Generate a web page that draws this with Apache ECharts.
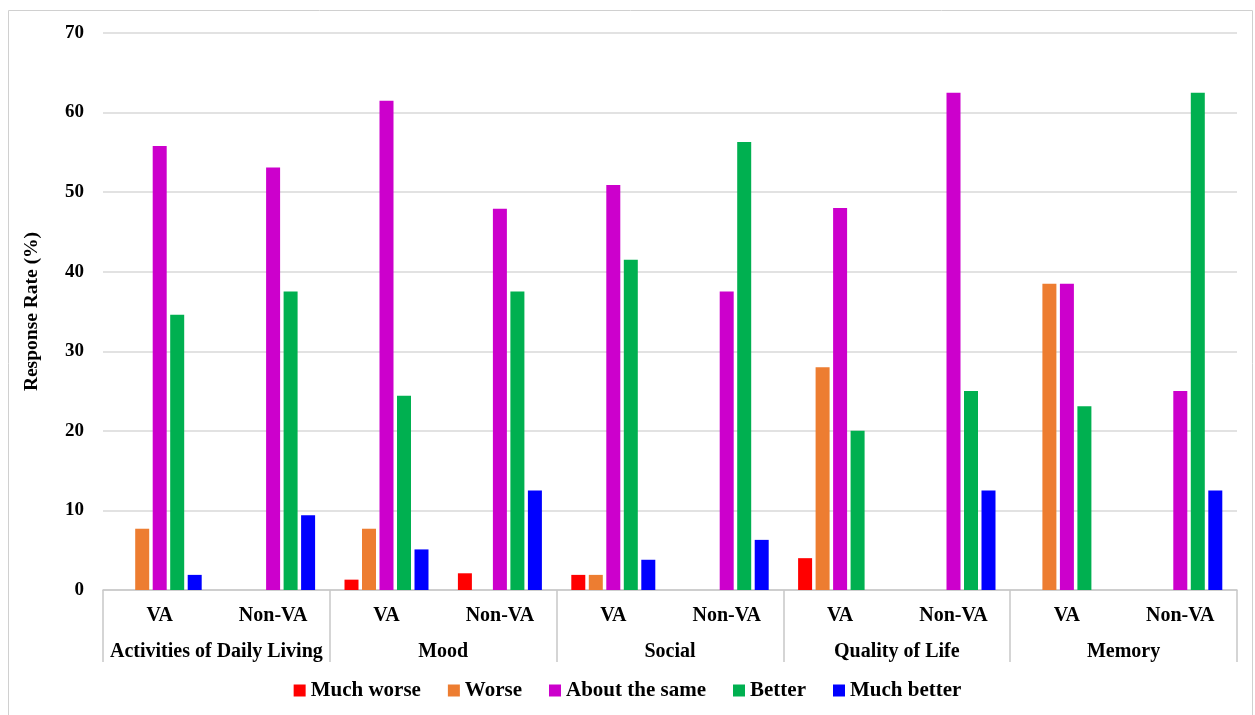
<!DOCTYPE html>
<html><head><meta charset="utf-8">
<script src="https://cdn.jsdelivr.net/npm/echarts@6/dist/echarts.min.js"></script>
<style>html,body{margin:0;padding:0;background:#fff}#c{width:1255px;height:715px}</style>
</head><body><div id="c"></div>
<script>
const groups = ['Activities of Daily Living','Mood','Social','Quality of Life','Memory'];
const subCategories = ['VA','Non-VA','VA','Non-VA','VA','Non-VA','VA','Non-VA','VA','Non-VA'];
const seriesNames = ['Much worse','Worse','About the same','Better','Much better'];
const muchWorse   = [0, 0, 1.3, 2.1, 1.9, 0, 4.0, 0, 0, 0];
const worse       = [7.7, 0, 7.7, 0, 1.9, 0, 28.0, 0, 38.5, 0];
const aboutSame   = [55.8, 53.1, 61.5, 47.9, 50.9, 37.5, 48.0, 62.5, 38.5, 25.0];
const better      = [34.6, 37.5, 24.4, 37.5, 41.5, 56.3, 20.0, 25.0, 23.1, 62.5];
const muchBetter  = [1.9, 9.4, 5.1, 12.5, 3.8, 6.3, 0, 12.5, 0, 12.5];
const yTicks = [0,10,20,30,40,50,60,70];
const colors = ['#ff0000','#ed7d31','#cc00cc','#00b050','#0000ff'];
const values = [muchWorse, worse, aboutSame, better, muchBetter];

const font = 'Liberation Serif, Times New Roman, serif';
const chart = echarts.init(document.getElementById('c'));
chart.setOption({
  animation:false,
  textStyle:{fontFamily:font},
  graphic:[{type:'rect',shape:{x:8.5,y:10.5,width:1244,height:720},style:{fill:'none',stroke:'#d0d0d0',lineWidth:1},silent:true}],
  grid:{left:103,right:18,top:33,bottom:125},
  legend:{bottom:9,left:'center',itemWidth:12,itemHeight:12,itemGap:27,icon:'rect',
    textStyle:{fontFamily:font,fontWeight:'bold',fontSize:21,color:'#000'},
    data:seriesNames},
  xAxis:[{
    type:'category',data:subCategories,position:'bottom',
    axisLine:{lineStyle:{color:'#c8c8c8',width:1.5}},axisTick:{show:false},
    axisLabel:{interval:0,margin:16,fontFamily:font,fontWeight:'bold',fontSize:20,color:'#000'}
  },{
    type:'category',data:groups,position:'bottom',
    axisLine:{show:false},
    axisTick:{show:true,length:72,lineStyle:{color:'#c8c8c8',width:1.5}},
    axisLabel:{interval:0,margin:52,fontFamily:font,fontWeight:'bold',fontSize:20,color:'#000'}
  }],
  yAxis:{type:'value',min:yTicks[0],max:yTicks[yTicks.length-1],interval:10,
    name:'Response Rate (%)',nameLocation:'middle',nameGap:61,
    nameTextStyle:{fontFamily:font,fontWeight:'bold',fontSize:19.5,color:'#000'},
    axisLine:{show:false},axisTick:{show:false},
    axisLabel:{margin:19,fontFamily:font,fontWeight:'bold',fontSize:19,color:'#000'},
    splitLine:{lineStyle:{color:'#d9d9d9',width:1.5}}},
  series: seriesNames.map((n,i)=>({
    name:n,type:'bar',xAxisIndex:0,data:values[i],
    barWidth:14,barGap:'25%',barCategoryGap:'26%',
    itemStyle:{color:colors[i]}
  }))
});
</script></body></html>
